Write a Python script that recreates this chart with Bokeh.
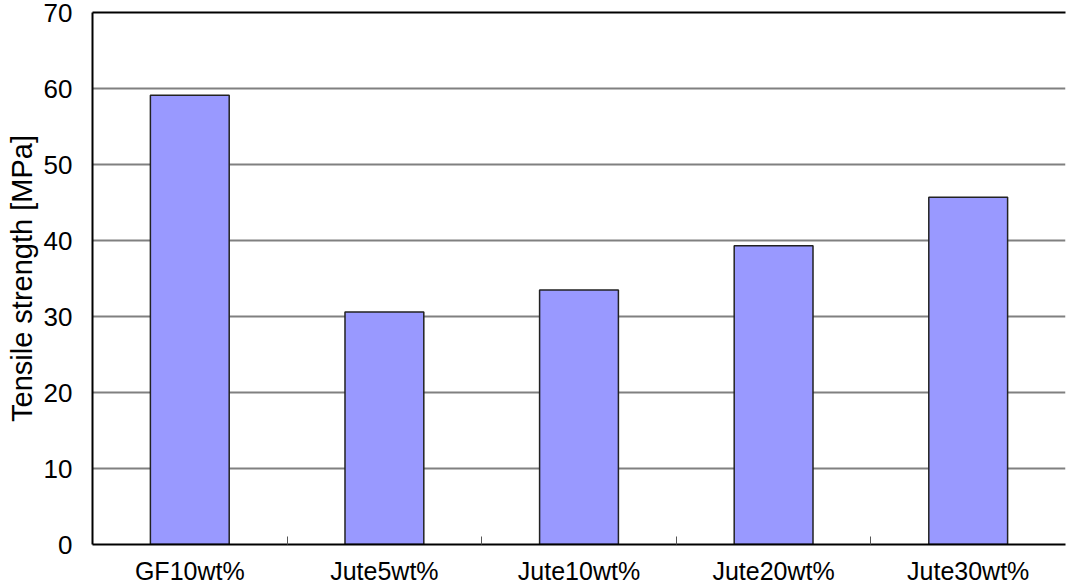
from bokeh.plotting import figure
from bokeh.models import ColumnDataSource, FixedTicker, LinearAxis, Range1d
from bokeh.embed import file_html
from bokeh.resources import INLINE

categories = ["GF10wt%", "Jute5wt%", "Jute10wt%", "Jute20wt%", "Jute30wt%"]
strength = [59.1, 30.6, 33.5, 39.3, 45.7]
y_ticks = [0, 10, 20, 30, 40, 50, 60, 70]

xpos = [i + 0.5 for i in range(len(categories))]
src = ColumnDataSource(dict(x=xpos, top=strength, cat=categories))

p = figure(width=1067, height=588, output_backend="svg", toolbar_location=None,
           x_range=Range1d(0, len(categories)), y_range=Range1d(0, 70),
           min_border_left=92, min_border_right=2, min_border_top=12, min_border_bottom=44,
           background_fill_color="white", border_fill_color="white")
p.outline_line_color = None

p.vbar(x="x", top="top", width=0.405, bottom=0, source=src,
       fill_color="#9999FF", line_color="#222222", line_width=1.5)

# x axis: labels at category centres, small inward ticks at category boundaries
p.xaxis.ticker = FixedTicker(ticks=xpos, minor_ticks=[1, 2, 3, 4])
p.xaxis.major_label_overrides = {x: c for x, c in zip(xpos, categories)}
p.xaxis.major_tick_in = 0
p.xaxis.major_tick_out = 0
p.xaxis.minor_tick_in = 8
p.xaxis.minor_tick_out = 0
p.xaxis.minor_tick_line_color = "#555555"
p.xaxis.axis_line_color = "black"
p.xaxis.axis_line_width = 2
p.xaxis.major_label_text_font = "Liberation Sans"
p.xaxis.major_label_text_font_size = "25px"
p.xaxis.major_label_text_color = "black"
p.xaxis.major_label_standoff = 12

# y axis
p.yaxis.ticker = FixedTicker(ticks=y_ticks)
p.yaxis.major_tick_in = 0
p.yaxis.major_tick_out = 0
p.yaxis.minor_tick_line_color = None
p.yaxis.axis_line_color = "black"
p.yaxis.axis_line_width = 2
p.yaxis.major_label_text_font = "Liberation Sans"
p.yaxis.major_label_text_font_size = "26px"
p.yaxis.major_label_text_color = "black"
p.yaxis.major_label_standoff = 20
p.yaxis.axis_label = "Tensile strength [MPa]"
p.yaxis.axis_label_text_font = "Liberation Sans"
p.yaxis.axis_label_text_font_size = "29px"
p.yaxis.axis_label_text_font_style = "normal"
p.yaxis.axis_label_text_color = "black"
p.yaxis.axis_label_standoff = 3

# top border line
top_axis = LinearAxis(ticker=FixedTicker(ticks=[]), axis_line_color="black",
                      axis_line_width=2, major_tick_line_color=None,
                      minor_tick_line_color=None)
p.add_layout(top_axis, "above")

p.xgrid.grid_line_color = None
p.ygrid.grid_line_color = "#808080"
p.ygrid.grid_line_width = 2

open("out.html", "w").write(file_html(p, INLINE))
